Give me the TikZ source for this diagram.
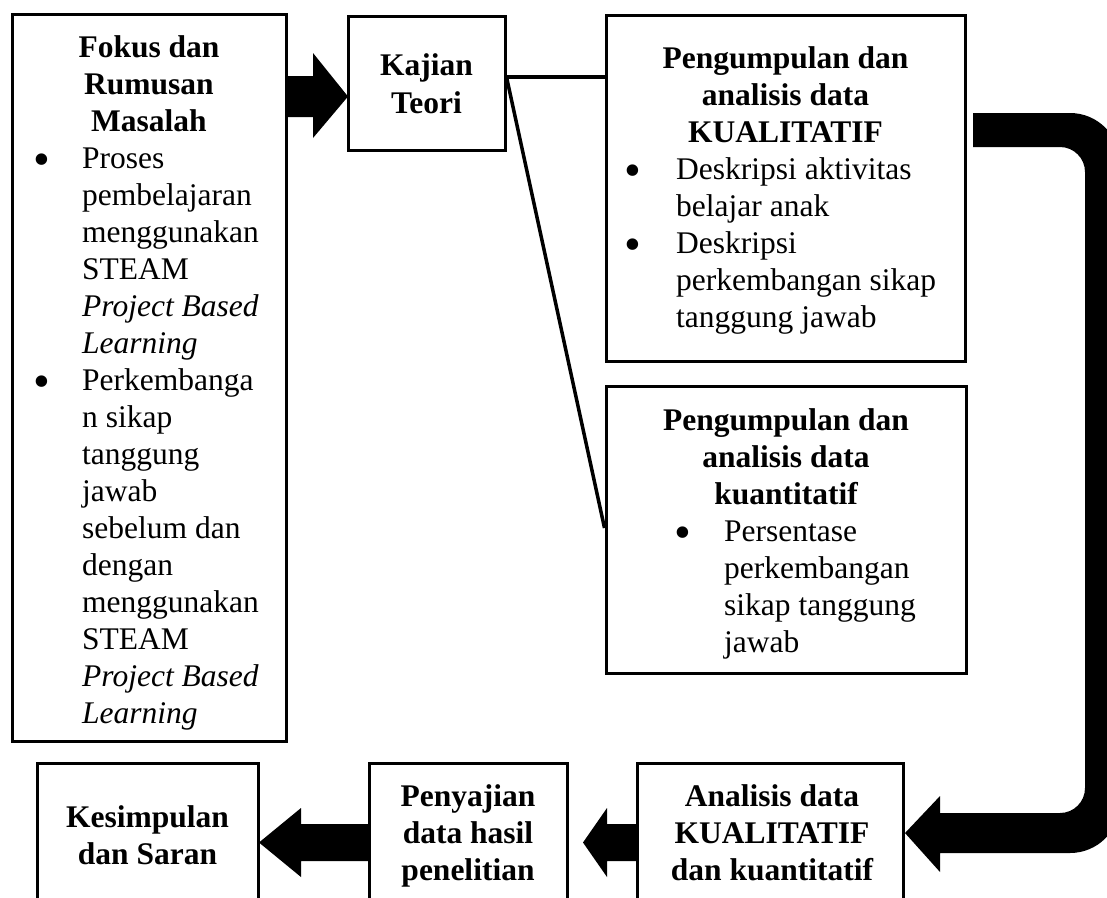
\documentclass[tikz,border=0pt]{standalone}
\usepackage{fontspec}
\setmainfont{Liberation Serif}
\begin{document}
\begin{tikzpicture}[x=1pt,y=-1pt,
  box/.style={draw,line width=3pt,inner sep=0pt},
  txt/.style={inner sep=0pt,anchor=base,font=\fontsize{31.5}{37}\selectfont},
  txl/.style={inner sep=0pt,anchor=base west,font=\fontsize{31.5}{37}\selectfont},
  bt/.style={inner sep=0pt,anchor=base,font=\fontsize{31.5}{37}\selectfont\bfseries},
  bul/.style={inner sep=0pt,anchor=base,font=\fontsize{48}{50}\selectfont},
  conn/.style={line width=3.5pt},
  blk/.style={fill=black}]
\useasboundingbox (0,0) rectangle (1107,897);

% boxes
\node[box,minimum width=274pt,minimum height=727pt] (b1) at (149,377.5) {};
\node[box,minimum width=157pt,minimum height=134pt] (b2) at (426.5,83) {};
\node[box,minimum width=359pt,minimum height=346pt] (b3) at (785.5,188) {};
\node[box,minimum width=360pt,minimum height=287pt] (b4) at (786,529.5) {};
\node[box,minimum width=221pt,minimum height=147pt] (b5) at (147.5,836.5) {};
\node[box,minimum width=198pt,minimum height=147pt] (b6) at (468,836.5) {};
\node[box,minimum width=266pt,minimum height=147pt] (b7) at (770,836.5) {};

% box 1 text
\node[bt] (t1a) at (149,57.5) {Fokus dan};
\node[bt] (t1b) at (149,94.5) {Rumusan};
\node[bt] (t1c) at (149,131.5) {Masalah};
\node[bul] (u1a) at (42,175.5) {•};
\foreach \t [count=\i] in {Proses,pembelajaran,menggunakan,STEAM,{\itshape Project Based},{\itshape Learning}}
  \node[txl] (p\i) at (82,{168+37*(\i-1)}) {\t};
\node[bul] (u1b) at (42,397.5) {•};
\foreach \t [count=\i] in {Perkembanga,n sikap,tanggung,jawab,sebelum dan,dengan,menggunakan,STEAM,{\itshape Project Based},{\itshape Learning}}
  \node[txl] (q\i) at (82,{390+37*(\i-1)}) {\t};

% box 2 text
\node[bt] (t2a) at (426.5,75) {Kajian};
\node[bt] (t2b) at (426.5,113) {Teori};

% box 3 text
\node[bt] (t3a) at (785.5,68) {Pengumpulan dan};
\node[bt] (t3b) at (785.5,105) {analisis data};
\node[bt] (t3c) at (785.5,142) {KUALITATIF};
\node[bul] (u3a) at (633,186.5) {•};
\node[bul] (u3b) at (633,260.5) {•};
\foreach \t [count=\i] in {Deskripsi aktivitas,belajar anak,Deskripsi,perkembangan sikap,tanggung jawab}
  \node[txl] (r\i) at (676,{179+37*(\i-1)}) {\t};

% box 4 text
\node[bt] (t4a) at (786,430) {Pengumpulan dan};
\node[bt] (t4b) at (786,467) {analisis data};
\node[bt] (t4c) at (786,504) {kuantitatif};
\node[bul] (u4a) at (683,548.5) {•};
\foreach \t [count=\i] in {Persentase,perkembangan,sikap tanggung,jawab}
  \node[txl] (s\i) at (724,{541+37*(\i-1)}) {\t};

% bottom boxes text
\node[bt] (t5a) at (147.5,827) {Kesimpulan};
\node[bt] (t5b) at (147.5,864) {dan Saran};
\node[bt] (t6a) at (468,806) {Penyajian};
\node[bt] (t6b) at (468,843) {data hasil};
\node[bt] (t6c) at (468,880) {penelitian};
\node[bt] (t7a) at (772,806) {Analisis data};
\node[bt] (t7b) at (772,843) {KUALITATIF};
\node[bt] (t7c) at (772,880) {dan kuantitatif};

% thin connectors from Kajian Teori
\coordinate (hy) at (0,77);
\coordinate (dy) at (0,528);
\draw[conn] (b2.east |- hy) -- (b3.west |- hy);
\draw[conn] (b2.east |- hy) -- (b4.west |- dy);

% block arrow box1 -> box2
\fill[blk] (286,76) -- (313,76) -- (313,53) -- (348,96.5) -- (313,138) -- (313,117) -- (286,117) -- cycle;

% curved block arrow box3 -> box7
\fill[blk] (973,113) -- (1070,113) .. controls (1097.6,113) and (1120,135.4) .. (1120,163)
  -- (1120,803) .. controls (1120,830.6) and (1097.6,853) .. (1070,853)
  -- (940,853) -- (940,872) -- (905,833) -- (940,796) -- (940,813)
  -- (1060,813) .. controls (1073.8,813) and (1085,801.8) .. (1085,788)
  -- (1085,172) .. controls (1085,158.2) and (1073.8,147) .. (1060,147)
  -- (973,147) -- cycle;

% block arrows bottom row
\fill[blk] (637,824) -- (607,824) -- (607,808) -- (583,842.5) -- (607,877) -- (607,861) -- (637,861) -- cycle;
\fill[blk] (369,824) -- (301,824) -- (301,808) -- (259,842.5) -- (301,877) -- (301,861) -- (369,861) -- cycle;
\end{tikzpicture}
\end{document}
